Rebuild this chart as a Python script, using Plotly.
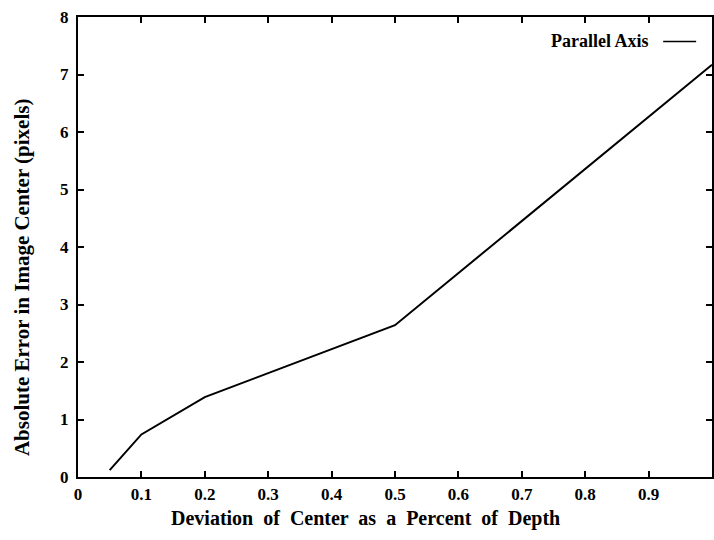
import plotly.graph_objects as go

x_vals = [0.05, 0.1, 0.2, 0.5, 1.0]
y_vals = [0.12, 0.74, 1.39, 2.64, 7.17]
series_name = "Parallel Axis"
x_title = "Deviation  of  Center  as  a  Percent  of  Depth"
y_title = "Absolute Error in Image Center (pixels)"
x_ticks = [0, 0.1, 0.2, 0.3, 0.4, 0.5, 0.6, 0.7, 0.8, 0.9, 1]
x_tick_text = ["0", "0.1", "0.2", "0.3", "0.4", "0.5", "0.6", "0.7", "0.8", "0.9", "1"]
y_ticks = [0, 1, 2, 3, 4, 5, 6, 7, 8]

FONT = "Liberation Serif"

fig = go.Figure()
fig.add_trace(go.Scatter(x=x_vals, y=y_vals, mode="lines", name=series_name,
                         line=dict(color="black", width=2), showlegend=False))

axis_common = dict(showline=True, linecolor="black", linewidth=2, mirror="ticks",
                   ticks="inside", ticklen=6, tickwidth=1.5, tickcolor="black",
                   showgrid=False, zeroline=False,
                   tickfont=dict(family=FONT, size=17, color="black", weight="bold"))

fig.update_xaxes(range=[0, 1], tickvals=x_ticks, ticktext=x_tick_text,
                 ticklabelstandoff=1, **axis_common)
fig.update_yaxes(range=[0, 8], tickvals=y_ticks, ticklabelstandoff=4, **axis_common)

# axis titles placed as in the original (offset from plot centre)
fig.add_annotation(x=0.454, y=-0.09, xref="paper", yref="paper", xanchor="center", yanchor="middle",
                   text=x_title, showarrow=False,
                   font=dict(family=FONT, size=20, color="black", weight="bold"))
fig.add_annotation(x=-0.088, y=0.435, xref="paper", yref="paper", xanchor="center", yanchor="middle",
                   text=y_title, showarrow=False, textangle=-90,
                   font=dict(family=FONT, size=21, color="black", weight="bold"))

# legend drawn as text + sample line (text left of sample, as in the original)
fig.add_annotation(x=0.903, y=0.947, xref="paper", yref="paper", xanchor="right", yanchor="middle",
                   text=series_name, showarrow=False,
                   font=dict(family=FONT, size=18, color="black", weight="bold"))
fig.add_shape(type="line", xref="paper", yref="paper", x0=0.923, x1=0.975, y0=0.947, y1=0.947,
              line=dict(color="black", width=1.5))

fig.update_layout(width=714, height=540, margin=dict(l=78, r=0, t=17, b=63),
                  paper_bgcolor="white", plot_bgcolor="white", showlegend=False)

fig.write_html("out.html")
